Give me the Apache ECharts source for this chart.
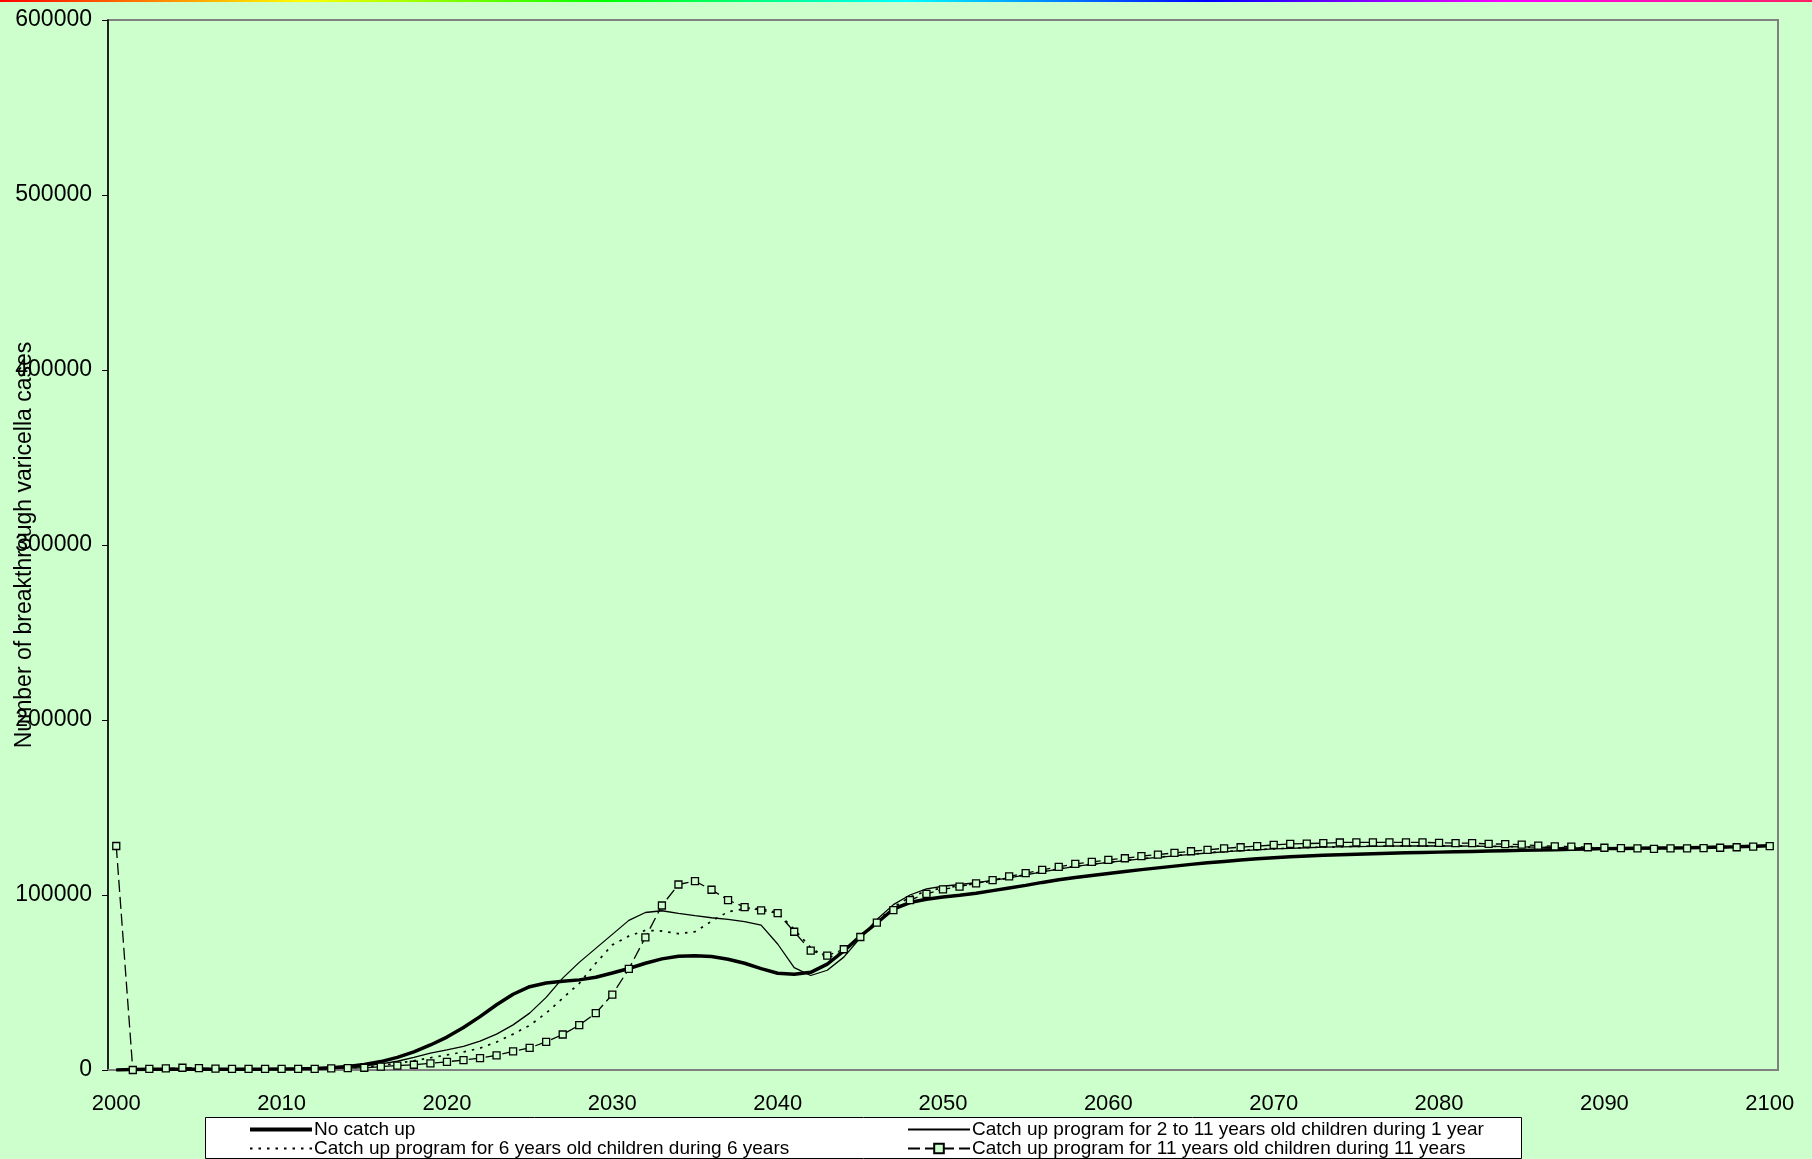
<!DOCTYPE html>
<html>
<head>
<meta charset="utf-8">
<title>Breakthrough varicella cases</title>
<script src="https://cdn.jsdelivr.net/npm/echarts@6/dist/echarts.min.js"></script>
<style>
  html, body { margin: 0; padding: 0; background: #CCFFCC; }
  #chart { width: 1812px; height: 1159px; }
</style>
</head>
<body>
<div id="chart"></div>
<script>
// categories: one per year
const years = [];
for (let y = 2000; y <= 2100; y++) years.push(String(y));

const yTicks = [0, 100000, 200000, 300000, 400000, 500000, 600000];

// No catch up
const noCatchUp = [
  0, 300, 400, 500, 500, 500, 500, 500, 500, 500,
  600, 700, 900, 1300, 2000, 3200, 4800, 7200, 10400, 14300,
  18800, 24300, 30500, 37300, 43300, 47600, 49700, 50700, 51500, 53000,
  55400, 58000, 61000, 63500, 65000, 65300, 64800, 63300, 61000, 57900,
  55300, 54700, 55800, 60500, 68000, 76500, 84000, 92000, 95700, 97600,
  98800, 99800, 101000, 102500, 104000, 105500, 107200, 108700, 110000, 111200,
  112300, 113400, 114500, 115500, 116500, 117500, 118400, 119200, 120000, 120700,
  121300, 121800, 122300, 122700, 123000, 123300, 123600, 123900, 124100, 124300,
  124500, 124700, 124900, 125100, 125300, 125500, 125700, 125900, 126100, 126300,
  126500, 126600, 126700, 126800, 126900, 127000, 127200, 127400, 127600, 127900, 128200
];

// 2 to 11 years old children during 1 year
const catchUp1Year = [
  0, 300, 400, 500, 500, 500, 500, 500, 500, 500,
  550, 600, 700, 1000, 1600, 2400, 3500, 5000, 7200, 9600,
  11500, 13500, 16500, 20500, 25800, 32500, 41500, 52500, 61500, 69500,
  77500, 85500, 90000, 91000, 89500, 88200, 87000, 86100, 84800, 82800,
  72000, 58500, 54000, 57000, 64500, 75500, 86000, 94500, 100000, 103500,
  105000, 106000, 107000, 108300, 109800, 111500, 113200, 114800, 116300, 117500,
  118600, 119600, 120600, 121500, 122400, 123200, 124000, 124700, 125300, 125800,
  126300, 126700, 127000, 127300, 127500, 127700, 127800, 127900, 128000, 128000,
  128000, 128000, 127900, 127800, 127700, 127500, 127300, 127100, 126900, 126800,
  126700, 126600, 126600, 126600, 126700, 126800, 127000, 127200, 127400, 127700, 128000
];

// 6 years old children during 6 years
const catchUp6Years = [
  0, 300, 400, 500, 500, 500, 500, 500, 500, 500,
  500, 550, 650, 800, 1200, 1800, 2600, 3800, 5300, 7000,
  8600, 10300, 12500, 16000, 20500, 25500, 32500, 41000, 49500, 61000,
  71500, 76500, 79800, 79400, 77900, 79000, 85000, 90400, 92100, 92300,
  89900, 80400, 69900, 63800, 68000, 75500, 85000, 93000, 98800, 102200,
  104000, 105200, 106500, 108000, 109800, 111600, 113300, 114900, 116400, 117600,
  118700, 119700, 120700, 121600, 122500, 123300, 124100, 124800, 125400, 125900,
  126400, 126800, 127100, 127400, 127600, 127800, 127900, 128000, 128100, 128100,
  128100, 128000, 127900, 127800, 127700, 127500, 127300, 127100, 126900, 126800,
  126700, 126600, 126600, 126600, 126700, 126800, 127000, 127200, 127400, 127700, 128000
];

// 11 years old children during 11 years
const catchUp11Years = [
  128000, 0, 600, 900, 1300, 1100, 800, 700, 700, 700,
  700, 700, 700, 900, 1100, 1300, 1900, 2500, 3000, 3800,
  4700, 5700, 6800, 8400, 10600, 12700, 16100, 20300, 25600, 32500,
  43100, 57800, 75800, 94000, 106000, 107900, 103000, 97100, 93100, 91200,
  89700, 79000, 68200, 65400, 69000, 76000, 84200, 91400, 97100, 100700,
  103200, 104800, 106700, 108500, 110600, 112500, 114400, 116100, 117800, 118900,
  120100, 121000, 122200, 123100, 124100, 125000, 125800, 126700, 127300, 127900,
  128600, 129200, 129400, 129600, 130000, 130100, 130100, 130100, 130100, 130100,
  129800, 129600, 129600, 129200, 129100, 128800, 128200, 127800, 127700, 127300,
  127000, 126800, 126700, 126400, 126600, 126700, 126800, 127000, 127300, 127600, 127900
];

const names = [
  "No catch up",
  "Catch up program for 2 to 11 years old children during 1 year",
  "Catch up program for 6 years old children during 6 years",
  "Catch up program for 11 years old children during 11 years"
];

const FONT = "'Liberation Sans', Arial, sans-serif";
const BG = "#CCFFCC";

const chart = echarts.init(document.getElementById("chart"));

// line-only legend entries (hide the dot ECharts puts on line icons)
const lineOnly = (name, width) => ({
  name: name,
  itemStyle: { opacity: 0 },
  lineStyle: width ? { width: width } : undefined
});

const legendCommon = {
  orient: "vertical",
  top: 1120,
  height: 40,
  padding: 0,
  itemWidth: 62,
  itemHeight: 12,
  itemGap: 0,
  selectedMode: false,
  textStyle: { fontFamily: FONT, fontSize: 19, color: "#000", lineHeight: 18.5, padding: [0, 0, 0, -3] }
};

const option = {
  backgroundColor: BG,
  animation: false,
  textStyle: { fontFamily: FONT },
  graphic: [
    {
      type: "rect",
      left: 0, top: 0, z: 10,
      shape: { width: 1812, height: 2 },
      style: {
        fill: new echarts.graphic.LinearGradient(0, 0, 1, 0, [
          { offset: 0, color: "#ff0000" },
          { offset: 1 / 6, color: "#ffff00" },
          { offset: 2 / 6, color: "#00ff00" },
          { offset: 3 / 6, color: "#00ffff" },
          { offset: 4 / 6, color: "#0000ff" },
          { offset: 5 / 6, color: "#ff00ff" },
          { offset: 1, color: "#ff2060" }
        ])
      }
    },
    {
      // legend frame
      type: "rect",
      left: 205, top: 1117, z: 0,
      shape: { width: 1316, height: 41 },
      style: { fill: "#ffffff", stroke: "#000", lineWidth: 1 }
    }
  ],
  grid: {
    left: 108,
    top: 20,
    width: 1670,
    height: 1050,
    outerBoundsMode: "none",
    containLabel: false,
    show: true,
    backgroundColor: BG,
    borderColor: "#808080",
    borderWidth: 2
  },
  legend: [
    Object.assign({ left: 248, data: [lineOnly(names[0], 4), lineOnly(names[2])] }, legendCommon),
    Object.assign({ left: 907, data: [lineOnly(names[1]), names[3]] }, legendCommon)
  ],
  xAxis: {
    type: "category",
    data: years,
    boundaryGap: true,
    axisLine: { lineStyle: { color: "#808080", width: 2 } },
    axisTick: { interval: 4, length: 7, lineStyle: { color: "#000", width: 1 } },
    axisLabel: { interval: 9, margin: 23, fontSize: 22, color: "#000", fontFamily: FONT },
    splitLine: { show: false }
  },
  yAxis: {
    type: "value",
    min: yTicks[0],
    max: yTicks[yTicks.length - 1],
    interval: 100000,
    name: "Number of breakthrough varicella cases",
    nameLocation: "middle",
    nameGap: 72,
    nameRotate: 90,
    nameMoveOverlap: false,
    nameTextStyle: { fontSize: 23, color: "#000", fontFamily: FONT },
    axisLine: { show: true, lineStyle: { color: "#000", width: 1.5 } },
    axisTick: { show: true, length: 6, lineStyle: { color: "#000" } },
    axisLabel: { margin: 16, fontSize: 23, color: "#000", fontFamily: FONT, formatter: v => String(v) },
    splitLine: { show: false }
  },
  series: [
    {
      name: names[0],
      type: "line",
      data: noCatchUp,
      symbol: "none",
      lineStyle: { color: "#000", width: 3.5 },
      itemStyle: { color: "#000" }
    },
    {
      name: names[1],
      type: "line",
      data: catchUp1Year,
      symbol: "none",
      lineStyle: { color: "#000", width: 1.3 },
      itemStyle: { color: "#000" }
    },
    {
      name: names[2],
      type: "line",
      data: catchUp6Years,
      symbol: "none",
      lineStyle: { color: "#000", width: 1.7, type: [2.5, 6] },
      itemStyle: { color: "#000" }
    },
    {
      name: names[3],
      type: "line",
      data: catchUp11Years,
      symbol: "rect",
      symbolSize: 7,
      showAllSymbol: true,
      lineStyle: { color: "#000", width: 1.3, type: [12, 5] },
      itemStyle: { color: BG, borderColor: "#000", borderWidth: 1.3 },
      z: 5
    }
  ]
};

chart.setOption(option);
</script>
</body>
</html>
